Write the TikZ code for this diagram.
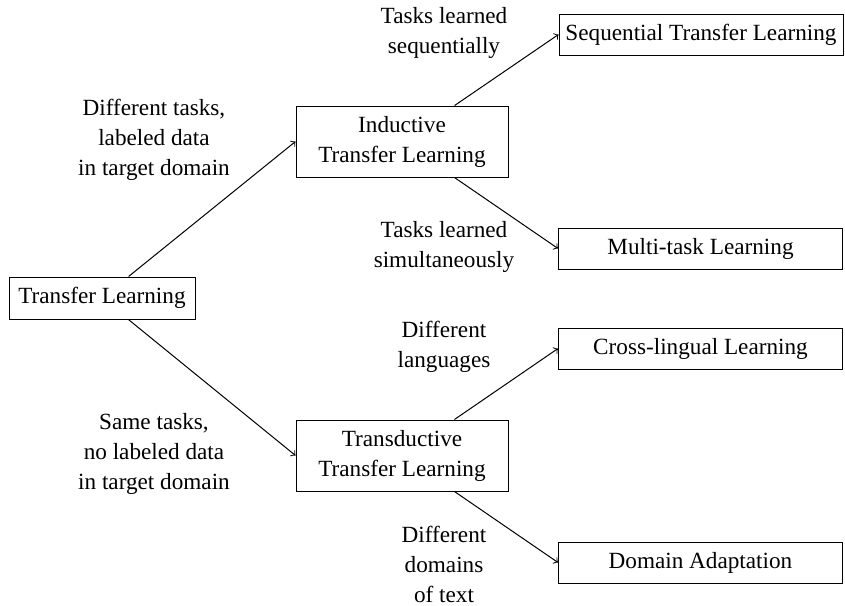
\documentclass[tikz,border=0pt]{standalone}
\usepackage{fontspec}
\setmainfont{Liberation Serif}
\begin{document}
\begin{tikzpicture}[x=0.5pt,y=-0.5pt,
  every node/.style={font=\fontsize{11.6}{15}\selectfont},
  box/.style={draw,line width=0.5pt,inner sep=0pt,align=center},
  rootbox/.style={box,minimum width=93pt,minimum height=21pt},
  midbox/.style={box,minimum width=106pt,minimum height=35.5pt},
  leafbox/.style={box,minimum width=142pt,minimum height=20.5pt},
  lbl/.style={align=center,inner sep=0pt},
  link/.style={->,line width=0.5pt}]
\useasboundingbox (0,0) rectangle (845,605);

% boxes
\node[rootbox] (tl) at (102,298) {Transfer Learning};
\node[midbox] (itl) at (402,141.5) {Inductive\\Transfer Learning};
\node[midbox] (ttl) at (402,455.5) {Transductive\\Transfer Learning};
\node[leafbox] (seq) at (701,34.5) {Sequential Transfer Learning};
\node[leafbox] (mtl) at (700.5,248.5) {Multi-task Learning};
\node[leafbox] (cll) at (700.5,348.5) {Cross-lingual Learning};
\node[leafbox] (da) at (700.5,562.5) {Domain Adaptation};

% edge labels
\node[lbl] (l1) at (154,140) {Different tasks,\\labeled data\\in target domain};
\node[lbl] (l2) at (154,454) {Same tasks,\\no labeled data\\in target domain};
\node[lbl] (l3) at (444,33) {Tasks learned\\sequentially};
\node[lbl] (l4) at (444,247) {Tasks learned\\simultaneously};
\node[lbl] (l5) at (444,347) {Different\\languages};
\node[lbl] (l6) at (444,564) {Different\\domains\\of text};

% connectors
\draw[link] (tl) -- (itl.west);
\draw[link] (tl) -- (ttl.west);
\draw[link] (itl) -- (seq.west);
\draw[link] (itl) -- (mtl.west);
\draw[link] (ttl) -- (cll.west);
\draw[link] (ttl) -- (da.west);
\end{tikzpicture}
\end{document}
